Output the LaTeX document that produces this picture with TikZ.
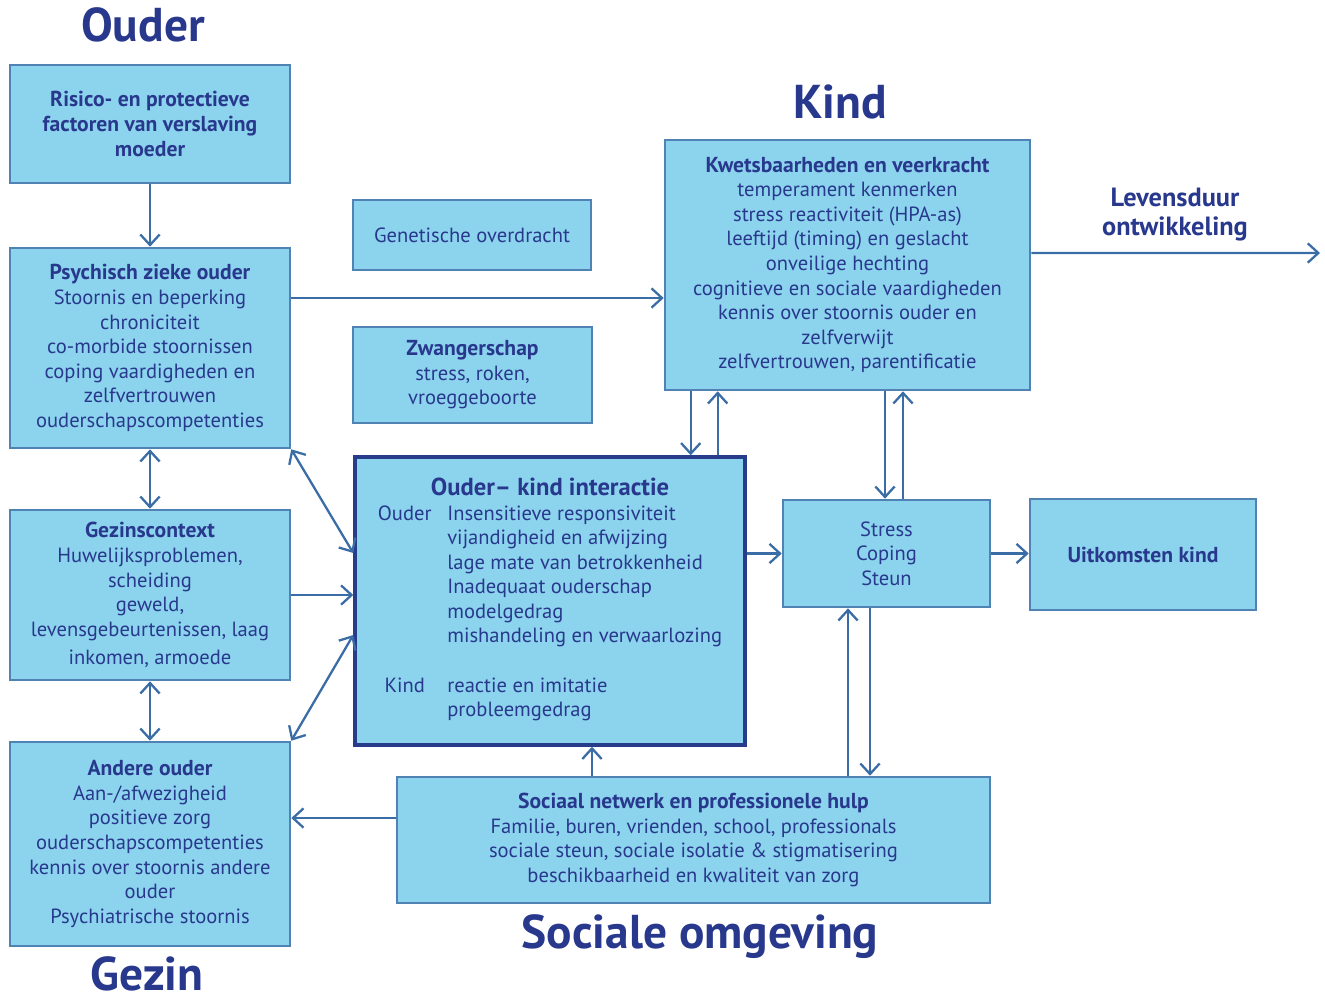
\documentclass[tikz,border=0pt]{standalone}
\usepackage{fontspec}
\setmainfont{PT Sans}
\usetikzlibrary{arrows.meta}

\definecolor{vulblauw}{RGB}{140,212,238}
\definecolor{randblauw}{RGB}{80,130,180}
\definecolor{donkerrand}{RGB}{40,60,140}
\definecolor{pijlblauw}{RGB}{58,108,165}
\definecolor{tekstblauw}{RGB}{40,56,140}

\newcommand{\kopje}[1]{{\bfseries\fontsize{12.3}{14}\selectfont #1}}

\begin{document}
\begin{tikzpicture}[x=0.02cm,y=-0.02cm,
  blok/.style={draw=randblauw,line width=1.5pt,fill=vulblauw,text=tekstblauw,
    align=center,inner sep=0pt,font=\fontsize{11.7}{14}\selectfont},
  kop/.style={text=tekstblauw,anchor=base,inner sep=0pt,text depth=0pt,font=\bfseries\fontsize{27}{30}\selectfont},
  pijl/.style={draw=pijlblauw,line width=1.3pt,-{Straight Barb[length=6pt,width=11pt]}},
  pijlen/.style={pijl,{Straight Barb[length=6pt,width=11pt]}-{Straight Barb[length=6pt,width=11pt]}}]

\useasboundingbox (0,0) rectangle (1325,995);

% Titles of the four domains.
\node[kop] (tOuder) at (143,41) {Ouder};
\node[kop] (tKind) at (840,118) {Kind};
\node[kop] (tGezin) at (147,990) {Gezin};
\node[kop] (tSociaal) at (700,948) {Sociale omgeving};
\node[text=tekstblauw,align=center,font=\bfseries\fontsize{15}{16.5}\selectfont] (tLeven) at (1175,215) {Levensduur\\ontwikkeling};

% Left column: parent and family.
\node[blok,minimum width=5.6cm,minimum height=2.36cm] (risico) at (150,124)
  {\kopje{Risico- en protectieve}\\\kopje{factoren van verslaving}\\\kopje{moeder}};
\node[blok,minimum width=5.6cm,minimum height=4cm] (psych) at (150,348)
  {\kopje{Psychisch zieke ouder}\\Stoornis en beperking\\chroniciteit\\co-morbide stoornissen\\
   coping vaardigheden en\\zelfvertrouwen\\ouderschapscompetenties};
\node[blok,minimum width=5.6cm,minimum height=3.4cm] (gezin) at (150,595)
  {\kopje{Gezinscontext}\\Huwelijksproblemen,\\scheiding\\geweld,\\levensgebeurtenissen, laag\\[2pt]inkomen, armoede};
\node[blok,minimum width=5.6cm,minimum height=4.08cm] (andere) at (150,844)
  {\kopje{Andere ouder}\\Aan-/afwezigheid\\positieve zorg\\ouderschapscompetenties\\
   kennis over stoornis andere\\ouder\\Psychiatrische stoornis};

% Middle column.
\node[blok,minimum width=4.76cm,minimum height=1.4cm] (genetisch) at (472,235) {Genetische overdracht};
\node[blok,minimum width=4.78cm,minimum height=1.92cm] (zwanger) at (472.5,375)
  {\kopje{Zwangerschap}\\stress, roken,\\vroeggeboorte};
\node[blok,draw=donkerrand,line width=2pt,minimum width=7.8cm,minimum height=5.76cm] (ok) at (550,601)
  {{\bfseries\fontsize{14}{14}\selectfont Ouder– kind interactie}\\[3pt]
   \begin{tabular}{@{}c@{\hspace{9pt}}l@{}}
   Ouder & Insensitieve responsiviteit\\
         & vijandigheid en afwijzing\\
         & lage mate van betrokkenheid\\
         & Inadequaat ouderschap\\
         & modelgedrag\\
         & mishandeling en verwaarlozing\\
         & \\
   Kind  & reactie en imitatie\\
         & probleemgedrag
   \end{tabular}};
\node[blok,minimum width=11.86cm,minimum height=2.52cm] (sociaal) at (693.5,840)
  {\kopje{Sociaal netwerk en professionele hulp}\\Familie, buren, vrienden, school, professionals\\
   sociale steun, sociale isolatie \& stigmatisering\\beschikbaarheid en kwaliteit van zorg};

% Right side: child.
\node[blok,minimum width=7.3cm,minimum height=5cm] (kwets) at (847.5,265)
  {\kopje{Kwetsbaarheden en veerkracht}\\temperament kenmerken\\stress reactiviteit (HPA-as)\\
   leeftijd (timing) en geslacht\\onveilige hechting\\cognitieve en sociale vaardigheden\\
   kennis over stoornis ouder en\\zelfverwijt\\zelfvertrouwen, parentificatie};
\node[blok,minimum width=4.14cm,minimum height=2.14cm] (stress) at (886.5,553.5) {Stress\\Coping\\Steun};
\node[blok,minimum width=4.52cm,minimum height=2.22cm] (uitkomst) at (1143,554.5) {\kopje{Uitkomsten kind}};
\coordinate (leveneind) at (1320,253);

% Draw arrows on the left.
\draw[pijl] (risico.south) -- (psych.north);
\draw[pijlen] (psych.south) -- (gezin.north);
\draw[pijlen] (gezin.south) -- (andere.north);
\draw[pijl] ([yshift=1cm]psych.east) -- ([yshift=1cm]psych.east -| kwets.west);
\draw[pijlen] (psych.south east) -- ([yshift=0.96cm]ok.west);
\draw[pijl] (gezin.east) -- (gezin.east -| ok.west);
\draw[pijlen] (andere.north east) -- ([yshift=-0.68cm]ok.west);
\draw[pijl] ([yshift=0.44cm]sociaal.west) -- ([yshift=0.44cm]sociaal.west -| andere.east);

% Draw arrows between child and interaction.
\draw[pijl] ([xshift=0.54cm]kwets.south west) -- ([xshift=0.54cm]kwets.south west |- ok.north);
\draw[pijl] ([xshift=1.08cm]kwets.south west |- ok.north) -- ([xshift=1.08cm]kwets.south west);
\draw[pijl] ([xshift=-0.03cm]stress.north |- kwets.south) -- ([xshift=-0.03cm]stress.north);
\draw[pijl] ([xshift=0.33cm]stress.north) -- ([xshift=0.33cm]stress.north |- kwets.south);
\draw[pijl] (stress.west -| ok.east) -- (stress.west);
\draw[pijl] (stress.east) -- (stress.east -| uitkomst.west);

% Draw arrows to the social network.
\draw[pijl] ([xshift=-0.77cm]stress.south |- sociaal.north) -- ([xshift=-0.77cm]stress.south);
\draw[pijl] ([xshift=-0.33cm]stress.south) -- ([xshift=-0.33cm]stress.south |- sociaal.north);
\draw[pijl] ([xshift=0.84cm]ok.south |- sociaal.north) -- ([xshift=0.84cm]ok.south);

% Life span arrow.
\draw[pijl] ([yshift=0.24cm]kwets.east) -- (leveneind);

\end{tikzpicture}
\end{document}
